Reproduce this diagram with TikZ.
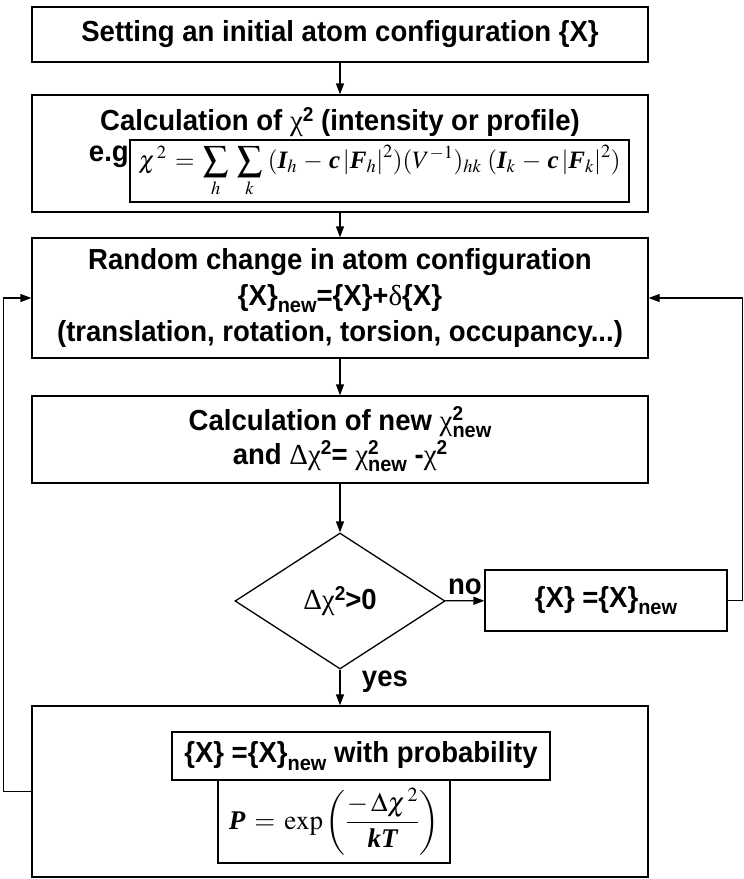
\documentclass[tikz,border=0pt]{standalone}
\usepackage{mathptmx}
\usepackage[no-math]{fontspec}
\setmainfont{Liberation Sans}[FakeStretch=0.95]
\newfontfamily\timesfont{Liberation Serif}
\usepackage{tikz}
\usetikzlibrary{shapes.geometric,arrows.meta}

\newcommand{\grk}[1]{{\timesfont\mdseries #1}}
\newcommand{\upsup}[1]{\raisebox{0.33em}{\fontsize{20}{20}\selectfont #1}}
\newcommand{\lowsub}[1]{\raisebox{-0.25em}{\fontsize{21}{21}\selectfont #1}}
\newcommand{\supsub}[2]{\rlap{\upsup{#1}}\lowsub{#2}}
\newcommand{\bi}[1]{\mbox{\timesfont\bfseries\itshape #1}}

\begin{document}
\begin{tikzpicture}[x=1pt,y=-1pt,
    box/.style={draw,line width=1.3pt,minimum width=616pt,inner sep=0pt},
    frame/.style={draw,line width=1.3pt,inner sep=0pt},
    lbl/.style={font=\fontsize{29}{36}\selectfont\bfseries,align=center},
    flow/.style={line width=1.3pt,-{Triangle[length=11pt,width=8pt]}}]
    \useasboundingbox (0,0) rectangle (744,879);

    \node[box,lbl,minimum height=55pt] (init) at (340,34.5) {Setting an initial atom configuration \{X\}};

    \node[box,minimum height=117pt] (chi) at (340,153.5) {};
    \node[lbl,inner sep=0pt] (chiT) at (340,122) {Calculation of \grk{χ}\upsup{2} (intensity or profile)};
    \node[lbl,inner sep=0pt,anchor=east] (eg) at (129,157) {e.g};
    \node[frame,minimum width=499pt,minimum height=62pt,font=\fontsize{25}{28}\selectfont] (chiF) at (379.5,171)
        {$\displaystyle \chi^{\,2} \,=\, \sum_{h}\;\sum_{k}\;(\bi{I}_{h} \,-\, \bi{c}\left|\bi{F}_{h}\right|^{2})(V^{-1})_{hk}\;(\bi{I}_{k} \,-\, \bi{c}\left|\bi{F}_{k}\right|^{2})$};

    \node[box,lbl,minimum height=120pt] (rand) at (340,298)
        {Random change in atom configuration\\ \{X\}\lowsub{new}=\{X\}+\grk{δ}\{X\}\\ (translation, rotation, torsion, occupancy...)};

    \node[box,lbl,minimum height=87pt,font=\fontsize{29}{34}\selectfont\bfseries] (calc) at (340,439.5)
        {Calculation of new \grk{χ}\supsub{2}{new}\\ and \grk{Δχ}\upsup{2}= \grk{χ}\supsub{2}{new} -\grk{χ}\upsup{2}};

    \node[draw,diamond,line width=1.3pt,minimum width=210pt,minimum height=136pt,inner sep=0pt,lbl] (test) at (340,601)
        {\grk{Δχ}\upsup{2}>0};

    \node[frame,lbl,minimum width=242pt,minimum height=61pt] (keep) at (606,600.5) {\{X\} =\{X\}\lowsub{new}};

    \node[box,minimum height=171pt] (prob) at (340,791.5) {};
    \node[frame,lbl,minimum width=378pt,minimum height=48pt] (probT) at (361,756) {\{X\} =\{X\}\lowsub{new} with probability};
    \node[frame,minimum width=232pt,minimum height=83pt,font=\fontsize{27}{30}\selectfont] (probF) at (334,821.5)
        {$\displaystyle \bi{P} \,=\, \exp\left(\frac{-\,\Delta\chi^{\,2}}{\bi{kT}}\right)$};

    \draw[flow] (init) -- (chi);
    \draw[flow] (chi) -- (rand);
    \draw[flow] (rand) -- (calc);
    \draw[flow] (calc) -- (test);
    \draw[flow] (test) -- node[lbl,pos=0.35,right=18pt] {yes} (prob);
    \draw[flow] (test) -- node[lbl,above=2pt] {no} (keep);
    \draw[flow] (keep.east) -- ++(15,0) |- (rand.east);
    \draw[flow] (prob.west) -- ++(-28,0) |- (rand.west);
\end{tikzpicture}
\end{document}
